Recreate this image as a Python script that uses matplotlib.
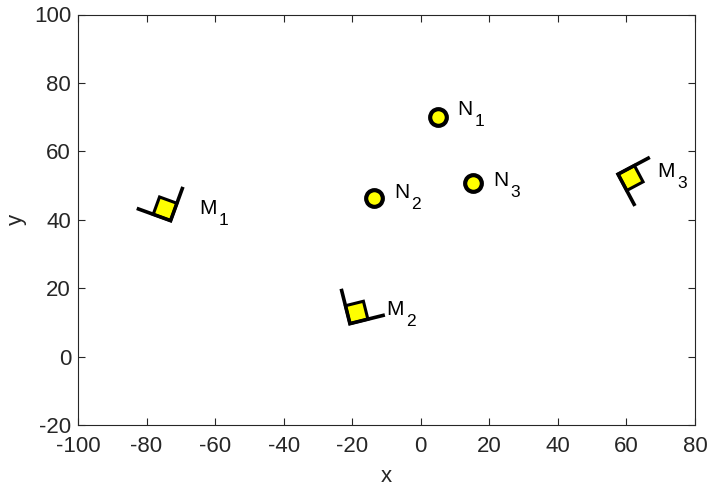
import numpy as np
import matplotlib
matplotlib.use("Agg")
import matplotlib.pyplot as plt
from matplotlib.patches import Polygon
from matplotlib.transforms import offset_copy

# Data
n_main = ["N", "N", "N"]
n_sub = ["1", "2", "3"]
n_x = [5.0, -13.7, 15.2]
n_y = [70.0, 46.3, 50.6]

m_main = ["M", "M", "M"]
m_sub = ["1", "2", "3"]
m_x = [-74.6, -18.7, 61.2]
m_y = [43.2, 12.9, 52.2]
m_angle = [160.0, 104.0, 28.0]  # orientation of first arm, degrees

plt.rcParams['font.family'] = ['Liberation Sans', 'DejaVu Sans']
plt.rcParams['axes.unicode_minus'] = False
fig = plt.figure(figsize=(7.10, 4.87), dpi=100)
ax = fig.add_axes([78/710, 1-425/487, (695-78)/710, (425-14.5)/487])

dark = '#262626'

ax.set_xlim(-100, 80)
ax.set_ylim(-20, 100)

# M markers
side = 5.4
arm = 10.5
for x, y, a in zip(m_x, m_y, m_angle):
    t = np.deg2rad(a)
    u = np.array([np.cos(t), np.sin(t)])
    v = np.array([np.cos(t - np.pi/2), np.sin(t - np.pi/2)])
    c = np.array([x, y])
    vert = c - side/2 * (u + v)
    sq = [vert, vert + side*u, vert + side*(u+v), vert + side*v]
    ax.add_patch(Polygon(sq, closed=True, facecolor='yellow', edgecolor='black',
                         linewidth=2.2, zorder=3))
    pts = np.array([vert + arm*u, vert, vert + arm*v])
    ax.plot(pts[:, 0], pts[:, 1], color='black', linewidth=2.6,
            solid_capstyle='butt', solid_joinstyle='miter', zorder=4)

# N markers
ax.plot(n_x, n_y, linestyle='none', marker='o', markersize=12,
        markerfacecolor='yellow', markeredgecolor='black', markeredgewidth=3.0,
        zorder=5)

# label offsets in pixels (dx right, dy down) for the main glyph baseline
n_off = [(19, -2), (20, 0), (20, 3)]
m_off = [(34, 5), (30, 3), (27, -1)]

fig.canvas.draw()
renderer = fig.canvas.get_renderer()

def put_label(x, y, main, sub, off):
    dx, dy = off
    tr = offset_copy(ax.transData, fig=fig, x=dx, y=-dy, units='dots')
    t = ax.text(x, y, main, transform=tr, fontsize=15, color='black',
                va='baseline', ha='left')
    fig.canvas.draw()
    bb = t.get_window_extent(renderer)
    tr2 = offset_copy(ax.transData, fig=fig, x=dx + bb.width + 2, y=-dy - 11,
                      units='dots')
    ax.text(x, y, sub, transform=tr2, fontsize=12.5, color='black',
            va='baseline', ha='left')

for x, y, a, b, o in zip(n_x, n_y, n_main, n_sub, n_off):
    put_label(x, y, a, b, o)
for x, y, a, b, o in zip(m_x, m_y, m_main, m_sub, m_off):
    put_label(x, y, a, b, o)

ax.set_xticks(np.arange(-100, 81, 20))
ax.set_yticks(np.arange(-20, 101, 20))
ax.tick_params(direction='in', top=True, right=True, labelsize=16,
               colors=dark, length=5, width=0.8)
ax.tick_params(axis='x', pad=8)
ax.tick_params(axis='y', pad=5)
for s in ax.spines.values():
    s.set_color(dark)
    s.set_linewidth(0.8)
ax.set_xlabel('x', fontsize=16, color=dark, labelpad=6.5)
ax.set_ylabel('y', fontsize=16, color=dark, labelpad=5)

fig.savefig('out.png', dpi=100)
